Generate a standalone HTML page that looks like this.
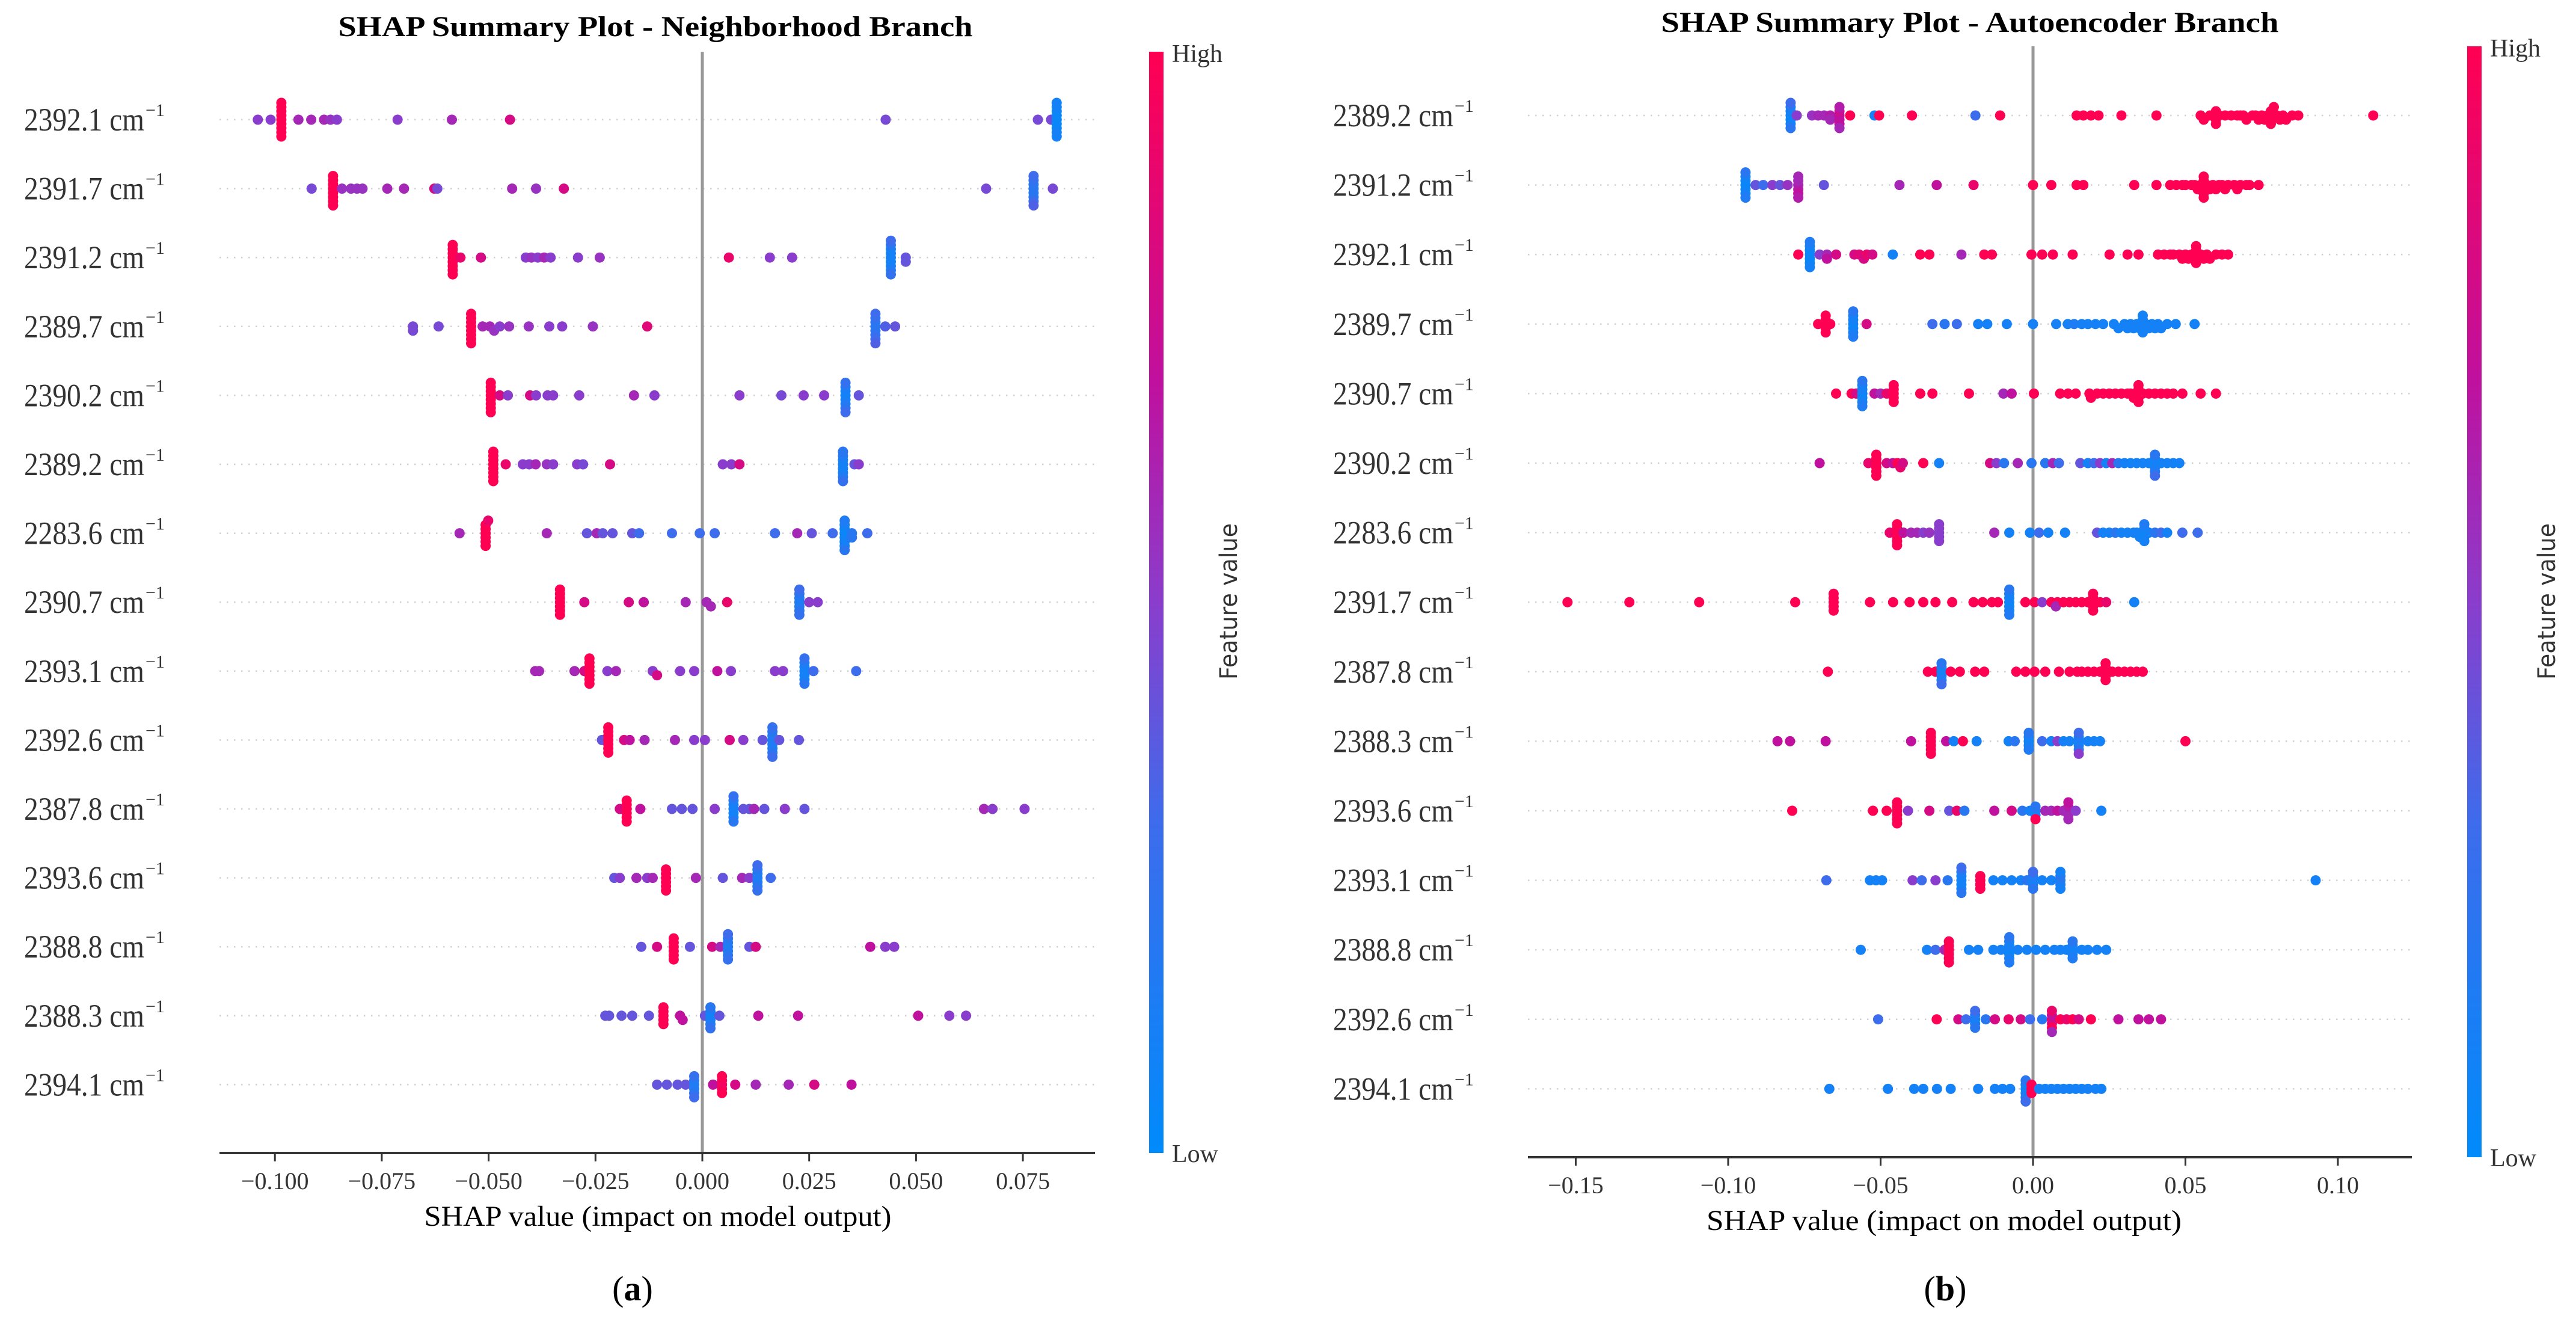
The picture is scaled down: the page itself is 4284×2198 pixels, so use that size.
<!DOCTYPE html>
<html><head><meta charset="utf-8"><style>
html,body{margin:0;padding:0;background:#fff;}
svg{display:block;font-family:"Liberation Serif",serif;}
</style></head><body>
<svg id="chart" width="4284" height="2198" viewBox="0 0 4284 2198" xmlns="http://www.w3.org/2000/svg">
<defs>
<linearGradient id="cbg" x1="0" y1="1" x2="0" y2="0">
<stop offset="0" stop-color="#008bfb"/><stop offset="0.3" stop-color="#3d6cec"/><stop offset="0.5" stop-color="#8a3dcc"/><stop offset="0.7" stop-color="#c0109e"/><stop offset="1" stop-color="#ff0052"/>
</linearGradient>
</defs>
<g id="panelA"></g>
<g id="panelB"></g>
</svg>
<script>
// ---------- Panel A data ----------
const featuresA = ["2392.1","2391.7","2391.2","2389.7","2390.2","2389.2","2283.6","2390.7","2393.1","2392.6","2387.8","2393.6","2388.8","2388.3","2394.1"];
const ticksA = [-0.1,-0.075,-0.05,-0.025,0,0.025,0.05,0.075];
const tickLabelsA = ["\u22120.100","\u22120.075","\u22120.050","\u22120.025","0.000","0.025","0.050","0.075"];
const shapA = [
 [-0.0985,-0.0985,-0.0985,-0.0985,-0.0985,-0.0985,-0.0985,-0.0985,-0.0985,-0.104,-0.101,-0.0945,-0.0915,-0.0885,-0.087,-0.0855,-0.0713,-0.0586,-0.045,0.0429,0.0785,0.0816,0.0829,0.0829,0.0829,0.0829,0.0829,0.0829,0.0829,0.0829,0.0829],
 [-0.0864,-0.0864,-0.0864,-0.0864,-0.0864,-0.0864,-0.0864,-0.0864,-0.0914,-0.0843,-0.0822,-0.0808,-0.0795,-0.0737,-0.0698,-0.0627,-0.062,-0.0445,-0.0389,-0.0324,0.0664,0.0775,0.0775,0.0775,0.0775,0.0775,0.0775,0.0775,0.0775,0.082],
 [-0.0584,-0.0584,-0.0584,-0.0584,-0.0584,-0.0584,-0.0584,-0.0584,-0.0566,-0.0518,-0.0413,-0.04,-0.0385,-0.037,-0.0355,-0.0291,-0.024,0.0062,0.0158,0.021,0.0441,0.0441,0.0441,0.0441,0.0441,0.0441,0.0441,0.0441,0.0441,0.0476,0.0476],
 [-0.0541,-0.0541,-0.0541,-0.0541,-0.0541,-0.0541,-0.0541,-0.0541,-0.0677,-0.0677,-0.0617,-0.0514,-0.0497,-0.0487,-0.0474,-0.0452,-0.0406,-0.0358,-0.0328,-0.0256,-0.0129,0.0405,0.0405,0.0405,0.0405,0.0405,0.0405,0.0405,0.0405,0.0428,0.0451],
 [-0.0495,-0.0495,-0.0495,-0.0495,-0.0495,-0.0495,-0.0495,-0.0495,-0.0474,-0.0455,-0.0403,-0.0389,-0.0362,-0.0349,-0.0288,-0.016,-0.0112,0.0087,0.0185,0.0237,0.0285,0.0335,0.0335,0.0335,0.0335,0.0335,0.0335,0.0335,0.0335,0.0366],
 [-0.0489,-0.0489,-0.0489,-0.0489,-0.0489,-0.0489,-0.0489,-0.0489,-0.046,-0.042,-0.0405,-0.039,-0.0364,-0.0349,-0.0293,-0.0279,-0.0216,0.0048,0.0068,0.0087,0.0329,0.0329,0.0329,0.0329,0.0329,0.0329,0.0329,0.0329,0.0356,0.0366],
 [-0.0507,-0.0507,-0.0507,-0.0507,-0.0507,-0.0507,-0.0568,-0.0501,-0.0364,-0.027,-0.0247,-0.0233,-0.021,-0.0164,-0.0148,-0.0071,-0.0006,0.0029,0.017,0.0222,0.0256,0.0305,0.0333,0.0333,0.0333,0.0333,0.0333,0.0333,0.0333,0.0333,0.035,0.035,0.0386],
 [-0.0333,-0.0333,-0.0333,-0.0333,-0.0333,-0.0333,-0.0333,-0.0276,-0.0172,-0.0137,-0.0039,0.001,0.002,0.0058,0.0227,0.0227,0.0227,0.0227,0.0227,0.0227,0.0227,0.025,0.027],
 [-0.0391,-0.0382,-0.0299,-0.0276,-0.0264,-0.0264,-0.0264,-0.0264,-0.0264,-0.0264,-0.0264,-0.0222,-0.0202,-0.0116,-0.0106,-0.0052,-0.0019,0.0035,0.0067,0.017,0.0189,0.0239,0.0239,0.0239,0.0239,0.0239,0.0239,0.0239,0.026,0.036],
 [-0.022,-0.022,-0.022,-0.022,-0.022,-0.022,-0.022,-0.0235,-0.0183,-0.017,-0.0135,-0.0064,-0.0019,0.0006,0.0064,0.0096,0.0141,0.0164,0.0164,0.0164,0.0164,0.0164,0.0164,0.0164,0.0164,0.018,0.0226],
 [-0.0177,-0.0177,-0.0177,-0.0177,-0.0177,-0.0177,-0.0193,-0.0145,-0.0071,-0.0048,-0.0023,0.0029,0.0073,0.0073,0.0073,0.0073,0.0073,0.0073,0.0073,0.0096,0.011,0.0121,0.0145,0.0193,0.0239,0.0659,0.0679,0.0754],
 [-0.0085,-0.0085,-0.0085,-0.0085,-0.0085,-0.0085,-0.0206,-0.0193,-0.0154,-0.0129,-0.0116,-0.0015,0.0048,0.0093,0.011,0.0129,0.0129,0.0129,0.0129,0.0129,0.0129,0.0129,0.016],
 [-0.0067,-0.0067,-0.0067,-0.0067,-0.0067,-0.0067,-0.0143,-0.0106,-0.0029,0.0023,0.0042,0.006,0.006,0.006,0.006,0.006,0.006,0.006,0.011,0.0125,0.0393,0.0428,0.0449],
 [-0.0091,-0.0091,-0.0091,-0.0091,-0.0091,-0.0227,-0.0218,-0.0189,-0.0164,-0.0125,-0.0052,-0.0046,0.0019,0.0019,0.0019,0.0019,0.0019,0.0019,0.0006,0.004,0.0131,0.0224,0.0505,0.0578,0.0617],
 [-0.0019,-0.0019,-0.0019,-0.0019,-0.0019,-0.0019,0.0046,0.0046,0.0046,0.0046,0.0046,-0.0106,-0.0083,-0.0058,-0.0039,0.0025,0.0077,0.0125,0.0202,0.0262,0.0349]
];
const featA = [
 [1,1,1,1,1,1,1,1,1,.5,.5,.6,.6,.6,.55,.5,.5,.6,.8,.45,.45,.45,.05,.05,.05,.05,.05,.1,.1,.1,.1],
 [1,1,1,1,1,1,1,1,.45,.55,.55,.55,.55,.6,.6,.8,.45,.6,.55,.8,.45,.2,.2,.2,.2,.25,.3,.3,.35,.45],
 [1,1,1,1,1,1,1,1,.9,.8,.5,.55,.5,.6,.5,.5,.55,.9,.5,.5,.1,.1,.1,.1,.1,.15,.2,.25,.3,.4,.4],
 [1,1,1,1,1,1,1,1,.45,.45,.45,.6,.6,.55,.5,.55,.55,.5,.5,.55,.85,.2,.2,.2,.25,.25,.3,.3,.35,.35,.4],
 [1,1,1,1,1,1,1,1,.8,.5,.8,.5,.5,.5,.5,.6,.5,.5,.45,.5,.5,.1,.1,.1,.15,.15,.2,.25,.3,.4],
 [1,1,1,1,1,1,1,1,.9,.5,.5,.6,.55,.5,.5,.45,.8,.5,.5,.8,.1,.1,.1,.1,.15,.15,.2,.25,.4,.5],
 [1,1,1,1,1,1,.6,.9,.6,.4,.6,.4,.4,.4,.3,.3,.3,.3,.3,.6,.4,.3,.05,.05,.05,.1,.1,.1,.15,.2,.2,.2,.3],
 [1,1,1,1,1,1,1,.8,.8,.7,.6,.6,.6,.9,.15,.15,.15,.2,.2,.25,.3,.5,.5],
 [.6,.6,.6,.8,1,1,1,1,1,1,1,.5,.6,.5,.8,.5,.5,.7,.5,.5,.5,.1,.1,.1,.1,.15,.2,.25,.3,.3],
 [1,1,1,1,1,1,1,.4,.8,.7,.6,.6,.5,.5,.8,.5,.4,.15,.15,.15,.15,.2,.2,.25,.3,.4,.4],
 [1,1,1,1,1,1,.8,.7,.4,.4,.4,.5,.1,.1,.1,.1,.15,.2,.25,.4,.4,.6,.4,.5,.4,.6,.5,.5],
 [1,1,1,1,1,1,.4,.5,.6,.5,.6,.6,.4,.6,.5,.15,.15,.15,.2,.2,.25,.3,.3],
 [1,1,1,1,1,1,.4,.8,.4,.8,.6,.15,.15,.15,.2,.2,.25,.3,.4,.8,.7,.5,.5],
 [1,1,1,1,1,.4,.4,.4,.4,.4,.7,.7,.1,.1,.1,.15,.2,.25,.4,.4,.7,.7,.7,.5,.5],
 [.15,.15,.15,.2,.25,.3,.95,.95,.95,1,1,.4,.4,.4,.4,.7,.8,.6,.6,.8,.7]
];

// ---------- Panel B data ----------
const featuresB = ["2389.2","2391.2","2392.1","2389.7","2390.7","2390.2","2283.6","2391.7","2387.8","2388.3","2393.6","2393.1","2388.8","2392.6","2394.1"];
const ticksB = [-0.15,-0.1,-0.05,0,0.05,0.1];
const tickLabelsB = ["\u22120.15","\u22120.10","\u22120.05","0.00","0.05","0.10"];
const shapB = [
 [-0.0795,-0.0795,-0.0795,-0.0795,-0.0795,-0.0795,-0.0795,-0.0775,-0.0725,-0.0705,-0.0685,-0.0665,-0.0665,-0.0635,-0.0635,-0.0635,-0.0635,-0.0635,-0.0635,-0.06,-0.052,-0.0505,-0.0397,-0.0189,-0.0108,0.0143,0.0165,0.019,0.0215,0.029,0.0405,0.055,0.056,0.058,0.059,0.060,0.060,0.060,0.061,0.063,0.065,0.067,0.068,0.069,0.070,0.072,0.073,0.074,0.075,0.076,0.077,0.078,0.078,0.078,0.078,0.079,0.080,0.081,0.082,0.083,0.085,0.087,0.1116],
 [-0.0943,-0.0943,-0.0943,-0.0943,-0.0943,-0.0943,-0.0943,-0.091,-0.0885,-0.0855,-0.083,-0.0805,-0.077,-0.077,-0.077,-0.077,-0.077,-0.077,-0.0686,-0.0438,-0.0316,-0.0195,0,0.006,0.0143,0.0165,0.0332,0.0405,0.045,0.047,0.049,0.050,0.052,0.053,0.054,0.055,0.056,0.056,0.056,0.056,0.056,0.057,0.058,0.059,0.060,0.061,0.062,0.063,0.064,0.066,0.067,0.068,0.070,0.071,0.074],
 [-0.0732,-0.0732,-0.0732,-0.0732,-0.0732,-0.0732,-0.0732,-0.077,-0.070,-0.0676,-0.0676,-0.0646,-0.0586,-0.057,-0.0555,-0.0545,-0.0527,-0.046,-0.037,-0.034,-0.0235,-0.016,-0.0135,-0.0005,0.003,0.0065,0.0130,0.0251,0.031,0.0346,0.041,0.043,0.045,0.046,0.048,0.049,0.050,0.051,0.052,0.0535,0.0535,0.0535,0.0535,0.0535,0.055,0.056,0.057,0.058,0.060,0.062,0.064],
 [-0.068,-0.068,-0.068,-0.068,-0.068,-0.0665,-0.0705,-0.059,-0.059,-0.059,-0.059,-0.059,-0.059,-0.059,-0.0546,-0.033,-0.029,-0.025,-0.018,-0.015,-0.0086,0,0.0076,0.0114,0.0135,0.016,0.018,0.0205,0.023,0.0265,0.028,0.030,0.031,0.032,0.033,0.034,0.035,0.036,0.036,0.036,0.036,0.036,0.037,0.038,0.039,0.040,0.041,0.042,0.044,0.0468,0.053],
 [-0.0646,-0.0595,-0.058,-0.056,-0.056,-0.056,-0.056,-0.056,-0.056,-0.056,-0.052,-0.050,-0.048,-0.0457,-0.0457,-0.0457,-0.0457,-0.0457,-0.037,-0.033,-0.021,-0.0097,-0.007,0.0003,0.0089,0.0115,0.014,0.0185,0.019,0.021,0.023,0.025,0.027,0.029,0.031,0.032,0.033,0.0346,0.0346,0.0346,0.0346,0.0346,0.036,0.038,0.040,0.042,0.044,0.046,0.049,0.055,0.060],
 [-0.070,-0.0514,-0.0514,-0.0514,-0.0514,-0.0514,-0.0514,-0.054,-0.048,-0.046,-0.0445,-0.0435,-0.0427,-0.036,-0.0308,-0.0141,-0.012,-0.0095,-0.005,-0.0005,0.004,0.0065,0.0085,0.0155,0.018,0.020,0.022,0.024,0.026,0.028,0.030,0.032,0.034,0.036,0.038,0.040,0.040,0.040,0.040,0.040,0.040,0.042,0.044,0.046,0.048],
 [-0.0446,-0.0446,-0.0446,-0.0446,-0.0446,-0.0446,-0.047,-0.0425,-0.040,-0.038,-0.036,-0.034,-0.0308,-0.0308,-0.0308,-0.0308,-0.0308,-0.0127,-0.0078,-0.001,0.002,0.005,0.0105,0.021,0.023,0.025,0.027,0.029,0.031,0.033,0.034,0.035,0.0365,0.0365,0.0365,0.0365,0.0365,0.038,0.040,0.042,0.044,0.049,0.054],
 [-0.1527,-0.1324,-0.1095,-0.078,-0.0654,-0.0654,-0.0654,-0.0654,-0.0654,-0.0535,-0.0459,-0.0405,-0.036,-0.032,-0.0265,-0.0195,-0.0165,-0.0135,-0.0115,-0.0078,-0.0078,-0.0078,-0.0078,-0.0078,-0.0078,-0.0078,-0.0025,0.0005,0.003,0.006,0.008,0.0075,0.010,0.012,0.014,0.016,0.018,0.0197,0.0197,0.0197,0.0197,0.0197,0.022,0.024,0.0332],
 [-0.0673,-0.0345,-0.032,-0.030,-0.030,-0.030,-0.030,-0.030,-0.030,-0.027,-0.024,-0.019,-0.016,-0.0055,-0.0025,0.0005,0.004,0.0085,0.012,0.0145,0.016,0.018,0.020,0.022,0.0238,0.0238,0.0238,0.0238,0.0238,0.026,0.028,0.030,0.032,0.034,0.036],
 [-0.0838,-0.0797,-0.068,-0.040,-0.0335,-0.0335,-0.0335,-0.0335,-0.0335,-0.0335,-0.0285,-0.026,-0.023,-0.0185,-0.008,-0.006,-0.0014,-0.0014,-0.0014,-0.0014,-0.0014,0.003,0.006,0.008,0.010,0.012,0.015,0.015,0.015,0.015,0.015,0.015,0.018,0.020,0.022,0.05],
 [-0.079,-0.0525,-0.0446,-0.0446,-0.0446,-0.0446,-0.0446,-0.0446,-0.048,-0.041,-0.034,-0.0275,-0.025,-0.0225,-0.0127,-0.007,-0.0035,-0.001,0.0008,0.0008,0.0008,0.0008,0.004,0.006,0.008,0.010,0.0116,0.0116,0.0116,0.0116,0.0116,0.014,0.0224],
 [-0.0678,-0.0535,-0.0515,-0.0495,-0.0395,-0.0365,-0.032,-0.028,-0.0235,-0.0235,-0.0235,-0.0235,-0.0235,-0.0235,-0.0235,-0.0173,-0.0173,-0.0173,-0.0173,-0.013,-0.010,-0.007,-0.004,-0.002,0,0,0,0,0,0.003,0.006,0.009,0.009,0.009,0.009,0.009,0.0927],
 [-0.0565,-0.0348,-0.032,-0.029,-0.0276,-0.0276,-0.0276,-0.0276,-0.0276,-0.0276,-0.021,-0.018,-0.013,-0.0105,-0.0078,-0.0078,-0.0078,-0.0078,-0.0078,-0.0078,-0.0078,-0.005,-0.002,0.001,0.004,0.007,0.009,0.011,0.013,0.013,0.013,0.013,0.013,0.016,0.018,0.021,0.024],
 [-0.0508,-0.0316,-0.0245,-0.022,-0.019,-0.019,-0.019,-0.019,-0.019,-0.0155,-0.0125,-0.008,-0.004,-0.001,0.0062,0.0062,0.0062,0.0062,0.0062,0.0062,0.003,0.009,0.011,0.013,0.015,0.019,0.028,0.0346,0.038,0.042],
 [-0.0668,-0.0476,-0.039,-0.036,-0.0315,-0.027,-0.018,-0.0125,-0.010,-0.0075,-0.0024,-0.0024,-0.0024,-0.0024,-0.0024,-0.0024,-0.0005,-0.0005,-0.0005,0.002,0.004,0.006,0.008,0.010,0.012,0.014,0.016,0.018,0.0205,0.0224]
];
const featB = [
 [.05,.05,.1,.1,.15,.2,.3,.5,.55,.6,.6,.65,.6,.7,.7,.75,.7,.65,.6,1,.1,1,1,.3,1,1,1,1,1,1,1,1,1,1,1,1,1,1,1,1,1,1,1,1,1,1,1,1,1,1,1,1,1,1,1,1,1,1,1,1,1,1,1],
 [.05,.05,.05,.1,.1,.15,.2,.4,.3,.5,.4,.55,.6,.65,.6,.7,.6,.65,.4,.6,.7,.9,1,1,1,1,1,1,1,1,1,1,1,1,1,1,1,1,1,1,1,1,1,1,1,1,1,1,1,1,1,1,1,1,1],
 [.05,.05,.05,.05,.1,.1,.15,1,.5,.6,.7,.8,.8,.85,.8,.9,.8,.1,1,1,.6,1,1,1,1,1,1,1,1,1,1,1,1,1,1,1,1,1,1,1,1,1,1,1,1,1,1,1,1,1,1],
 [1,1,1,1,1,1,1,.05,.05,.1,.1,.1,.15,.2,.8,.3,.2,.3,.1,.1,.1,.1,.1,.1,.15,.1,.1,.1,.1,.1,.1,.1,.1,.1,.1,.1,.1,.1,.1,.1,.1,.1,.1,.1,.1,.1,.1,.1,.1,.1,.1],
 [1,1,.8,.05,.05,.1,.1,.1,.15,.2,.7,.6,.9,1,1,1,1,1,1,1,1,.6,.7,1,1,1,1,1,1,1,1,1,1,1,1,1,1,1,1,1,1,1,1,1,1,1,1,1,1,1,1],
 [.7,1,1,1,1,1,1,.9,.8,.7,1,.9,.8,1,.1,.8,.5,.2,.6,.2,.2,.6,.3,.4,.1,.3,.5,.1,.6,.2,.1,.1,.1,.1,.1,.05,.1,.1,.15,.2,.3,.1,.1,.1,.1],
 [1,1,1,1,1,1,.9,.7,.6,.6,.5,.55,.5,.5,.5,.5,.5,.6,.1,.1,.3,.1,.1,.4,.1,.1,.2,.1,.1,.1,.1,.1,.1,.05,.1,.1,.15,.1,.2,.3,.1,.3,.3],
 [1,1,1,1,1,1,1,1,1,1,1,1,1,1,1,1,1,1,1,.05,.05,.1,.1,.1,.15,.2,1,1,.5,1,1,.6,1,1,1,1,1,1,1,1,1,1,1,.9,.1],
 [1,1,1,.1,.1,.1,.15,.2,.3,1,1,1,1,1,1,1,1,1,1,1,1,1,1,1,1,1,1,1,1,1,1,1,1,1,1],
 [.7,.7,.7,.7,1,1,1,1,1,1,.7,.1,1,.1,.1,.2,.05,.1,.1,.15,.2,.3,.1,.5,.1,.1,.1,.1,.15,.2,.3,.5,.1,.1,.1,1],
 [1,1,1,1,1,1,1,1,1,.5,.8,.4,.9,.2,.7,.8,.2,.1,.1,.1,.2,1,.6,.6,.7,.6,.55,.6,.65,.6,.7,.5,.1],
 [.3,.1,.1,.1,.5,.3,.5,.2,.1,.1,.1,.1,.15,.2,.3,1,1,1,1,.1,.1,.1,.1,.2,.1,.1,.15,.2,.3,.1,.1,.1,.15,.2,.1,.1,.1],
 [.1,.1,.3,.6,1,1,1,1,1,1,.1,.1,.1,.1,.05,.05,.1,.1,.1,.15,.2,.1,.1,.1,.1,.1,.1,.1,.1,.1,.1,.15,.2,.1,.1,.1,.1],
 [.3,1,.8,.3,.1,.1,.15,.2,.3,.2,.8,.9,.8,.3,.9,.8,.7,1,.9,.6,.2,1,.9,1,.8,1,.7,.7,.7,.7],
 [.1,.1,.1,.1,.1,.1,.1,.1,.1,.1,.05,.1,.1,.15,.2,.3,1,1,1,.1,.1,.1,.1,.1,.1,.1,.1,.1,.1,.1]
];

const NS = "http://www.w3.org/2000/svg";
function mk(tag, attrs, parent){ const e=document.createElementNS(NS,tag); for(const k in attrs) e.setAttribute(k,attrs[k]); if(parent) parent.appendChild(e); return e; }
function hex(c){return [parseInt(c.slice(1,3),16),parseInt(c.slice(3,5),16),parseInt(c.slice(5,7),16)];}
const stops=[[0,"#008bfb"],[0.3,"#3d6cec"],[0.5,"#8a3dcc"],[0.7,"#c0109e"],[1,"#ff0052"]];
function cmap(t){
  t=Math.max(0,Math.min(1,t));
  for(let i=1;i<stops.length;i++){
    if(t<=stops[i][0]){const a=hex(stops[i-1][1]),b=hex(stops[i][1]);const f=(t-stops[i-1][0])/(stops[i][0]-stops[i-1][0]);
      return "rgb("+a.map((v,j)=>Math.round(v+(b[j]-v)*f)).join(",")+")";}
  }
  return stops[stops.length-1][1];
}

function drawPanel(g, cfg, features, shap, feat, ticks, tickLabels){
  const xs = v => cfg.x0 + v*cfg.scale;
  const ys = i => cfg.row0 + i*cfg.rowStep;
  const t=mk("text",{x:cfg.titleX,y:cfg.titleY,"text-anchor":"middle","font-size":48,"font-weight":"bold",fill:"#000",textLength:cfg.titleLen,lengthAdjust:"spacingAndGlyphs"},g);
   
  t.textContent=cfg.title;
  features.forEach((f,i)=>{
    const y=ys(i);
    const gl=mk("line",{x1:cfg.axL,x2:cfg.axR,y1:y,y2:y,stroke:"#d0d0d0","stroke-width":2.5,"stroke-dasharray":"2.5 9.5"},g);
     
    const lb=mk("text",{x:cfg.labR-28,y:y+18,"text-anchor":"end","font-size":54,fill:"#333",textLength:200,lengthAdjust:"spacingAndGlyphs"},g);
     
    lb.textContent=f+" cm";
    const sup=mk("text",{x:cfg.labR-26,y:y-6,"font-size":30,fill:"#333"},g);
     
    sup.textContent="\u22121";
  });
  const z=mk("line",{x1:xs(0),x2:xs(0),y1:cfg.zeroTop,y2:cfg.axY,stroke:"#999","stroke-width":5},g);
   
  const step=7, binW=9;
  shap.forEach((vals,i)=>{
    const y=ys(i);
    const bins={};
    const pts=vals.map((v,k)=>({v:v,c:feat[i][k]}));
    pts.forEach(p=>{const b=Math.round(xs(p.v)/binW);(bins[b]=bins[b]||[]).push(p);});
    Object.keys(bins).forEach(b=>{
      bins[b].forEach((p,k)=>{
        const off = k===0?0:(k%2? 1:-1)*Math.ceil(k/2)*step;
        const c=mk("circle",{cx:xs(p.v).toFixed(1),cy:(y+off).toFixed(1),r:8.5,fill:cmap(p.c)},g);
         
      });
    });
  });
  const ax=mk("line",{x1:cfg.axL,x2:cfg.axR,y1:cfg.axY,y2:cfg.axY,stroke:"#333","stroke-width":4},g);
   
  ticks.forEach((tv,k)=>{
    const tk=mk("line",{x1:xs(tv),x2:xs(tv),y1:cfg.axY,y2:cfg.axY+14,stroke:"#333","stroke-width":3},g);
     
    const tl=mk("text",{x:xs(tv),y:cfg.axY+60,"text-anchor":"middle","font-size":40,fill:"#333"},g);
     
    tl.textContent=tickLabels[k];
  });
  const xl=mk("text",{x:cfg.xlabX,y:cfg.axY+121,"text-anchor":"middle","font-size":48,fill:"#000",textLength:cfg.xlabLen,lengthAdjust:"spacingAndGlyphs"},g);
   
  xl.textContent="SHAP value (impact on model output)";
  const cb=mk("rect",{x:cfg.cbX,y:cfg.zeroTop,width:24,height:cfg.axY-cfg.zeroTop,fill:"url(#cbg)"},g);
   
  const hi=mk("text",{x:cfg.cbX+38,y:cfg.zeroTop+17,"font-size":42,fill:"#333"},g);
    hi.textContent="High";
  const lo=mk("text",{x:cfg.cbX+38,y:cfg.axY+15,"font-size":42,fill:"#333"},g);
    lo.textContent="Low";
  const fv=mk("text",{x:0,y:0,"font-size":40,fill:"#333","text-anchor":"middle","font-family":"DejaVu Sans, sans-serif",textLength:260,lengthAdjust:"spacingAndGlyphs",transform:"translate("+(cfg.cbX+146)+","+(1000)+") rotate(-90)"},g);
    fv.textContent="Feature value";
  const pl=mk("text",{x:cfg.subX,y:2162,"text-anchor":"middle","font-size":58,fill:"#000"},g);
   
  pl.textContent="(";
  const bb=mk("tspan",{"font-weight":"bold"},pl); bb.textContent=cfg.sub;
  const cl=mk("tspan",{},pl); cl.textContent=")";
}

drawPanel(document.getElementById("panelA"),
 {x0:1168,scale:7108,row0:199,rowStep:114.6,axL:365,axR:1821,axY:1917,zeroTop:86,cbX:1911,labR:268,
  title:"SHAP Summary Plot - Neighborhood Branch",titleX:1090,titleY:60,titleLen:1055,xlabX:1094,xlabLen:777,subX:1052,sub:"a"},
 featuresA, shapA, featA, ticksA, tickLabelsA);
drawPanel(document.getElementById("panelB"),
 {x0:3381,scale:5070,row0:192,rowStep:115.6,axL:2541,axR:4011,axY:1924,zeroTop:77,cbX:4103,labR:2445,
  title:"SHAP Summary Plot - Autoencoder Branch",titleX:3276,titleY:53,titleLen:1027,xlabX:3233,xlabLen:790,subX:3235,sub:"b"},
 featuresB, shapB, featB, ticksB, tickLabelsB);
</script>
</body></html>
